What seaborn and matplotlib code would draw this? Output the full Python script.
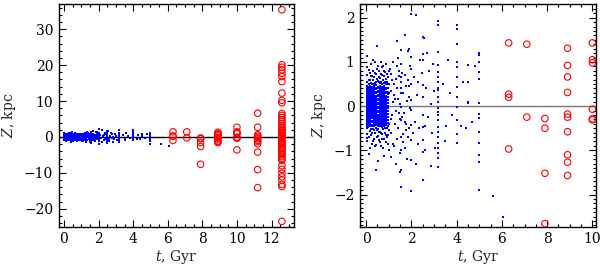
import numpy as np
import pandas as pd
import matplotlib
matplotlib.use("Agg")
import matplotlib.pyplot as plt
from matplotlib.ticker import MultipleLocator
import seaborn as sns

# --- young clusters (blue dots) ---
# dense core, t < 1 Gyr, |Z| < 0.45 kpc
core_ages = [0.02, 0.1, 0.19, 0.27, 0.36, 0.44, 0.53, 0.61, 0.7, 0.78, 0.87, 0.95]
core_z = [
    [0.45, 0.41, 0.36, 0.32, 0.27, 0.23, 0.18, 0.14, 0.09, 0.05, 0.0, -0.04, -0.09, -0.13, -0.18, -0.22, -0.27, -0.31, -0.36, -0.4, -0.45],
    [0.43, 0.39, 0.34, 0.3, 0.25, 0.21, 0.16, 0.12, 0.07, 0.03, -0.02, -0.06, -0.11, -0.15, -0.2, -0.24, -0.29, -0.33, -0.38, -0.42, -0.47],
    [0.46, 0.41, 0.37, 0.32, 0.28, 0.23, 0.19, 0.14, 0.1, 0.05, 0.01, -0.04, -0.08, -0.13, -0.17, -0.22, -0.26, -0.31, -0.35, -0.4, -0.44],
    [0.44, 0.39, 0.35, 0.3, 0.26, 0.21, 0.17, 0.12, 0.08, 0.03, -0.01, -0.06, -0.1, -0.15, -0.19, -0.24, -0.28, -0.33, -0.37, -0.42, -0.46],
    [0.45, 0.41, 0.36, 0.32, 0.27, 0.23, 0.18, 0.14, 0.09, 0.05, 0.0, -0.04, -0.09, -0.13, -0.18, -0.22, -0.27, -0.31, -0.36, -0.4, -0.45],
    [0.47, 0.42, 0.38, 0.33, 0.29, 0.24, 0.2, 0.15, 0.11, 0.06, 0.02, -0.03, -0.07, -0.12, -0.16, -0.21, -0.25, -0.3, -0.34, -0.39, -0.43],
    [0.44, 0.4, 0.35, 0.31, 0.26, 0.22, 0.17, 0.13, 0.08, 0.04, -0.01, -0.05, -0.1, -0.14, -0.19, -0.23, -0.28, -0.32, -0.37, -0.41, -0.46],
    [0.46, 0.41, 0.37, 0.32, 0.28, 0.23, 0.19, 0.14, 0.1, 0.05, 0.01, -0.04, -0.08, -0.13, -0.17, -0.22, -0.26, -0.31, -0.35, -0.4, -0.44],
    [0.43, 0.39, 0.34, 0.3, 0.25, 0.21, 0.16, 0.12, 0.07, 0.03, -0.02, -0.06, -0.11, -0.15, -0.2, -0.24, -0.29, -0.33, -0.38, -0.42, -0.47],
    [0.45, 0.4, 0.36, 0.31, 0.27, 0.22, 0.18, 0.13, 0.09, 0.04, 0.0, -0.05, -0.09, -0.14, -0.18, -0.23, -0.27, -0.32, -0.36, -0.41, -0.45],
    [0.42, 0.38, 0.33, 0.29, 0.24, 0.2, 0.15, 0.11, 0.06, 0.02, -0.03, -0.07, -0.12, -0.16, -0.21, -0.25, -0.3, -0.34, -0.39, -0.43],
    [0.4, 0.33, 0.27, 0.2, 0.14, 0.08, 0.01, -0.05, -0.12, -0.18, -0.25, -0.31, -0.38, -0.44],
]

# halo around the core, t < 1.05 Gyr
halo_ages = [0.02, 0.06, 0.11, 0.15, 0.2, 0.24, 0.29, 0.33, 0.38, 0.42, 0.47,
             0.51, 0.56, 0.6, 0.65, 0.69, 0.74, 0.78, 0.83, 0.87, 0.92, 0.96, 1.01]
halo_z = [
    [0.7, -0.62, 1.13, 0.55, -0.8],
    [0.55, -0.5, 0.88, -0.72],
    [0.6, -0.7, -1.08, 0.82, 0.5],
    [0.75, -0.56, 0.58, -0.95],
    [0.52, -0.66, 0.95, -0.52, 0.68],
    [0.68, -0.85, 0.5, -0.6],
    [0.58, -0.52, 0.8, -0.78, 1.05],
    [0.66, -0.74, 0.5, -0.55],
    [0.53, -0.6, 1.0, 0.75, -0.9],
    [0.72, -0.88, -1.45, 0.55, -0.5],
    [0.62, -0.55, 1.35, -0.7, 0.85],
    [0.57, -0.68, -1.25, 0.9, -0.52],
    [0.8, -0.77, 0.55, -0.58, 0.65],
    [0.64, -0.58, 0.52, -0.82],
    [0.55, -0.9, 0.99, 0.72, -0.6],
    [0.7, -0.63, 0.5, -0.75, 0.88],
    [0.6, -0.52, 0.9, -0.95],
    [0.52, -0.75, -1.12, 0.68, 0.8],
    [0.78, -0.6, 0.55, -0.5],
    [0.62, -0.82, 0.5, -0.65, 0.95],
    [0.55, -0.5, 0.72, -0.7],
    [0.65, -0.66, 0.5, -0.85],
    [0.5, -0.55, 0.8, -0.4, 0.3],
]

# scattered blue clusters, 1 - 6 Gyr
mid_t = [1.08, 1.1, 1.12, 1.15, 1.18, 1.2, 1.22, 1.25, 1.27, 1.3,
         1.32, 1.35, 1.38, 1.4, 1.42, 1.45, 1.48, 1.5, 1.53, 1.62,
         1.65, 1.68, 1.7, 1.72, 1.75, 1.78, 1.8, 1.83, 1.85, 1.88,
         1.9, 1.93, 1.1, 1.2, 1.3, 1.4, 1.5, 1.6, 1.7, 1.8,
         1.9, 1.15, 1.25, 1.35, 1.45, 1.55, 1.65, 1.75, 1.85, 1.95,
         2.1, 2.15, 2.2, 2.25, 2.3, 2.35, 2.4, 2.45, 2.6, 2.65,
         2.7, 2.75, 2.8, 2.85, 2.9, 3.0, 3.05, 2.55, 2.2, 2.85,
         1.12, 1.28, 1.44, 1.58, 1.72, 1.88, 2.05, 2.3, 2.6, 2.95,
         3.4, 3.5, 3.6, 3.7, 3.8, 4.2, 4.3, 4.4, 4.8, 5.6,
         6.05, 3.55, 4.7, 1.02, 1.06, 1.5, 1.35]
mid_z = [0.35, -0.6, 0.72, -0.2, 0.1, -0.85, 0.5, 0.25, -0.4, 0.62,
         -0.1, -0.75, 0.4, 0.15, -0.5, 0.8, -0.3, 0.05, 0.55, -0.62,
         0.3, -0.15, 0.7, -0.95, 0.45, -0.4, 0.12, -0.7, 0.6, 0.2,
         -0.5, 0.9, -1.15, 1.0, -1.3, 1.1, -1.05, -0.25, 1.62, -1.2,
         1.3, 0.58, -0.9, 0.9, 0.68, 0.4, -0.82, -0.55, 1.25, -0.05,
         0.65, -0.35, 2.07, 0.25, -0.85, -0.5, 1.05, 0.75, -1.0, 0.4,
         1.2, -0.25, 0.8, -1.35, -0.6, 0.35, -0.95, 1.55, -1.3, 0.05,
         -0.3, 0.15, -0.15, 0.75, -0.35, 0.45, -0.6, 0.55, -0.45, 0.95,
         0.5, -0.8, 1.05, 0.3, -0.2, -0.45, 0.55, -0.5, 0.9, -2.03,
         -2.5, -0.45, -0.35, -1.0, 0.85, -1.5, 1.48]

col_ages = [1.56, 2.0, 2.5, 3.18, 4.0, 4.5, 5.0]
col_z = [
    [1.26, 0.96, 0.66, 0.29, -0.02, -0.32, -0.69, -0.99, -1.44, -1.82],
    [2.08, 1.11, 0.85, 0.51, 0.14, -0.09, -0.43, -0.77, -1.22, -1.93],
    [1.56, 1.19, 1.04, 0.47, 0.21, -0.2, -0.47, -0.77, -1.03, -1.67],
    [1.92, 1.83, 1.23, 0.92, 0.77, 0.66, 0.55, 0.42, 0.36, 0.21, 0.1, -0.05,
     -0.13, -0.2, -0.32, -0.47, -0.58, -0.69, -0.84, -0.95, -1.07, -1.18, -1.37],
    [1.83, 1.75, 1.41, 1.0, 0.89, 0.66, 0.44, 0.21, -0.02, -0.32, -0.62, -0.84],
    [0.92, 0.55, 0.1, 0.06],
    [1.21, 1.15, 1.0, 0.77, 0.62, 0.06, -0.17, -0.28, -0.58, -0.84, -1.1, -1.26, -1.9],
]

# old clusters (red open circles)
old_ages = [6.3, 7.1, 7.9, 8.9, 10.0, 11.2, 12.6]
old_z = [
    [1.43, 0.27, 0.2, -0.97],
    [1.4, -0.25],
    [-0.28, -0.5, -1.52, -2.66, -7.6],
    [1.31, 0.92, 0.66, 0.31, -0.18, -0.25, -0.58, -1.1, -1.27, -1.57],
    [2.7, 1.43, 1.05, 0.98, -0.07, -0.29, -0.31, -3.6],
    [6.6, 2.7, 0.6, 0.2, -0.1, -0.5, -0.9, -1.3, -1.9, -4.2, -9.1, -14.1],
    [35.4, 20.1, 19.4, 18.7, 17.7, 16.8, 15.4, 12.2, 10.2, 9.5, 6.5, 6.0,
     5.4, 4.8, 4.3, 3.7, 3.1, 2.6, 2.2, 1.8, 1.3, 0.9, 0.5, 0.2, -0.1, -0.4,
     -0.8, -1.2, -1.5, -1.9, -2.3, -2.8, -3.2, -3.6, -4.1, -4.6, -5.0, -5.5,
     -6.0, -6.5, -8.0, -9.0, -10.1, -11.1, -12.0, -13.2, -13.8, -23.5],
]

# --- build tables ---
rows = []
for ages, zlists in [(core_ages, core_z), (halo_ages, halo_z), (col_ages, col_z)]:
    for a, zs in zip(ages, zlists):
        rows += [(a, z) for z in zs]
rows += list(zip(mid_t, mid_z))
young = pd.DataFrame(rows, columns=["t", "Z"])

old = pd.DataFrame([(a, z) for a, zs in zip(old_ages, old_z) for z in zs],
                   columns=["t", "Z"])

# --- plot ---
sns.set_style("ticks")
plt.rcParams["font.family"] = ["DejaVu Serif"]
plt.rcParams["mathtext.fontset"] = "dejavuserif"
plt.rcParams["xtick.direction"] = "in"
plt.rcParams["ytick.direction"] = "in"

fig = plt.figure(figsize=(6.0, 2.69), dpi=100)
ax1 = fig.add_axes([0.098, 0.157, 0.392, 0.828])
ax2 = fig.add_axes([0.600, 0.157, 0.393, 0.828])

panels = [
    (ax1, (-0.3, 13.3), (-25, 37), 2, 0.5, 10, 2, "black"),
    (ax2, (-0.27, 10.15), (-2.73, 2.31), 2, 0.5, 1, 0.1, "#777777"),
]

for ax, xl, yl, xmaj, xmin, ymaj, ymin, lcol in panels:
    ax.axhline(0, color=lcol, lw=1.0, zorder=1)
    sns.scatterplot(data=young, x="t", y="Z", ax=ax, color="blue", marker="s",
                    s=3, linewidth=0, zorder=2)
    sns.scatterplot(data=old, x="t", y="Z", ax=ax, marker="o", s=22,
                    facecolors="none", edgecolor="red", linewidth=0.8, zorder=3)
    ax.set_xlim(*xl)
    ax.set_ylim(*yl)
    ax.xaxis.set_major_locator(MultipleLocator(xmaj))
    ax.xaxis.set_minor_locator(MultipleLocator(xmin))
    ax.yaxis.set_major_locator(MultipleLocator(ymaj))
    ax.yaxis.set_minor_locator(MultipleLocator(ymin))
    ax.tick_params(which="both", top=True, right=True, direction="in",
                   width=0.8, labelsize=10, colors="black", pad=4)
    ax.tick_params(which="major", length=5)
    ax.tick_params(which="minor", length=2.5)
    for sp in ax.spines.values():
        sp.set_linewidth(1.0)
        sp.set_color("black")
    ax.set_xlabel("$t$, Gyr", fontsize=10, labelpad=1)
    ax.set_ylabel("$Z$, kpc", fontsize=10, labelpad=4)
    ax.grid(False)

fig.savefig("out.png", dpi=100)
